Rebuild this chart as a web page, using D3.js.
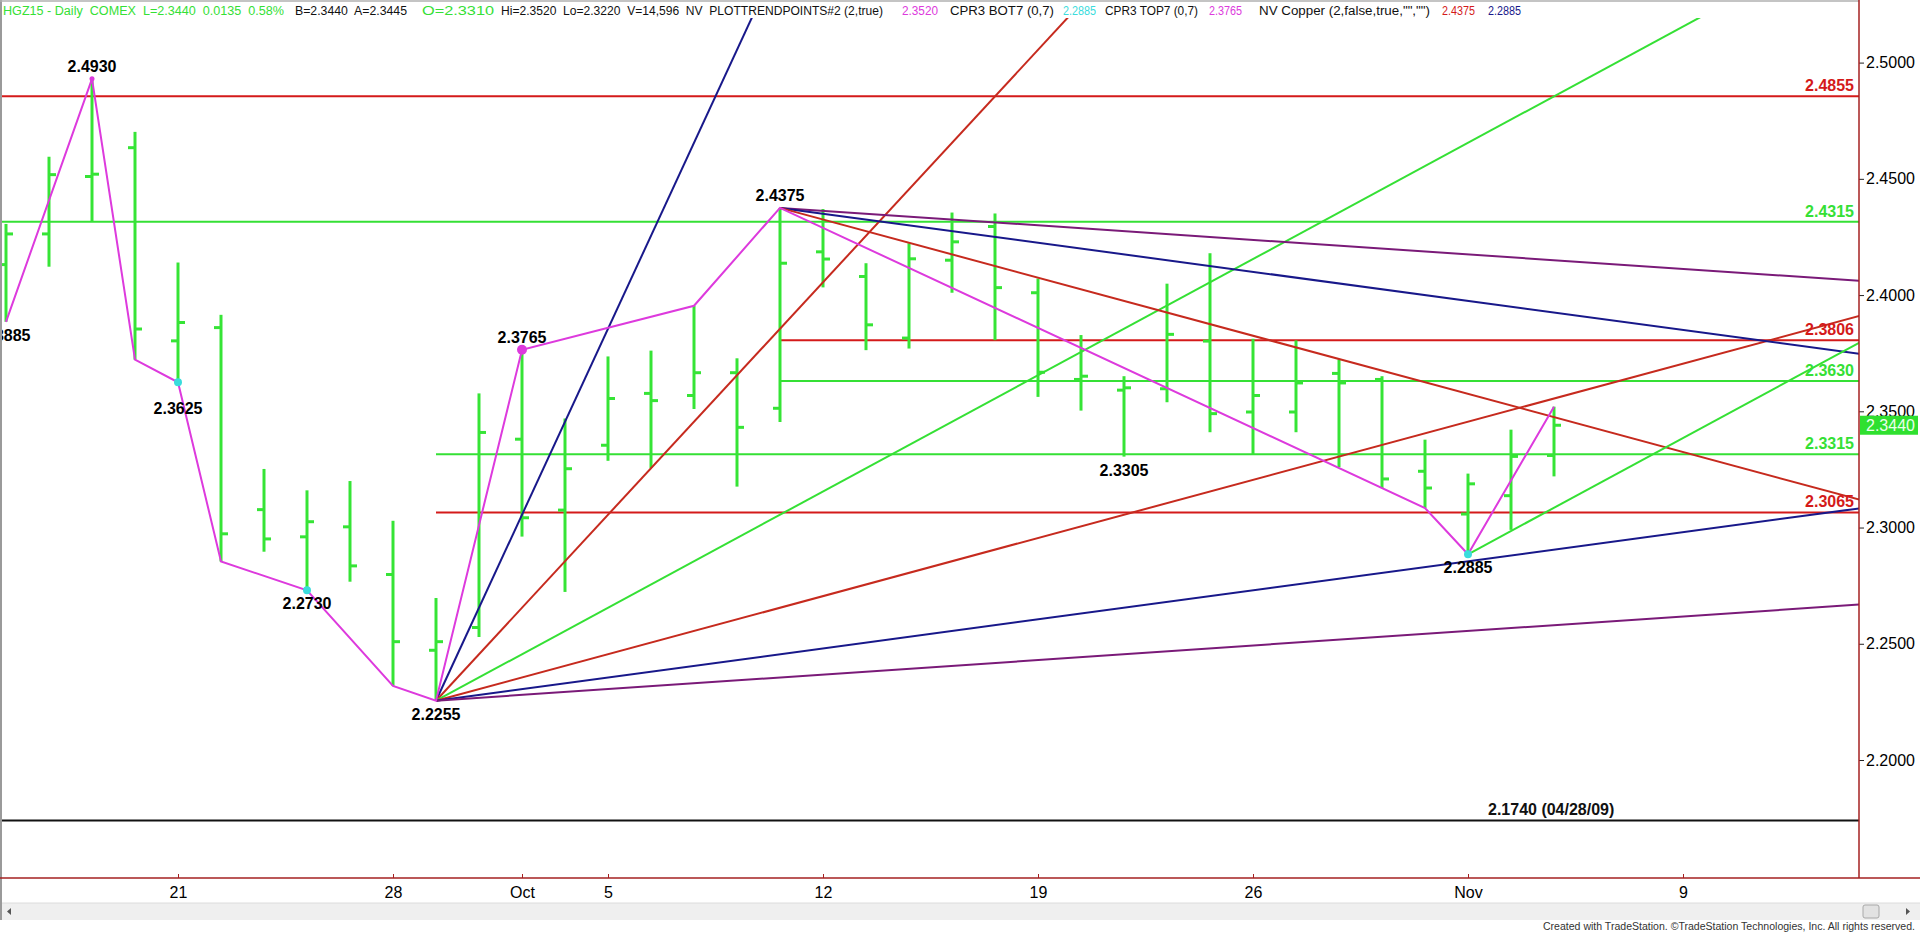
<!DOCTYPE html>
<html><head><meta charset="utf-8">
<script src="https://cdn.jsdelivr.net/npm/d3@7"></script>
<style>
html,body{margin:0;padding:0;background:#fff;overflow:hidden}
svg{display:block;font-family:"Liberation Sans",Arial,sans-serif}
</style></head><body>
<svg id="c" width="1920" height="934"></svg>
<script>
// ---------------- DATA ----------------
const dates = ["2015-09-15","2015-09-16","2015-09-17","2015-09-18","2015-09-21","2015-09-22","2015-09-23","2015-09-24","2015-09-25",
"2015-09-28","2015-09-29","2015-09-30","2015-10-01","2015-10-02","2015-10-05","2015-10-06","2015-10-07","2015-10-08","2015-10-09",
"2015-10-12","2015-10-13","2015-10-14","2015-10-15","2015-10-16","2015-10-19","2015-10-20","2015-10-21","2015-10-22","2015-10-23",
"2015-10-26","2015-10-27","2015-10-28","2015-10-29","2015-10-30","2015-11-02","2015-11-03","2015-11-04"];
const futureDates = ["2015-11-05","2015-11-06","2015-11-09","2015-11-10","2015-11-11","2015-11-12","2015-11-13"];
const opens  = [2.4131,2.4263,2.4510,2.4634,2.3803,2.3860,2.3077,2.2960,2.3003,2.2798,2.2472,2.2570,2.3380,2.3075,2.3354,2.3577,2.3568,2.3666,2.3513,2.4186,2.4080,2.3815,2.4150,2.4295,2.4010,2.3637,2.3591,2.3597,2.3802,2.3497,2.3497,2.3663,2.3637,2.3242,2.3058,2.3137,2.3310];
const highs  = [2.4306,2.4595,2.4930,2.4702,2.4140,2.3915,2.3252,2.3160,2.3200,2.3029,2.2697,2.3577,2.3765,2.3469,2.3736,2.3761,2.3954,2.3728,2.4375,2.4370,2.4137,2.4223,2.4355,2.4351,2.4071,2.3828,2.3651,2.4049,2.4180,2.3812,2.3805,2.3723,2.3651,2.3378,2.3232,2.3421,2.3520];
const lows   = [2.3885,2.4122,2.4315,2.3722,2.3625,2.2854,2.2896,2.2730,2.2767,2.2319,2.2255,2.2529,2.2961,2.2723,2.3287,2.3256,2.3510,2.3176,2.3454,2.4033,2.3763,2.3770,2.4010,2.3806,2.3562,2.3503,2.3305,2.3539,2.3410,2.3313,2.3410,2.3260,2.3170,2.3084,2.2885,2.2990,2.3220];
const closes = [2.4263,2.4518,2.4520,2.3854,2.3882,2.2973,2.2951,2.3025,2.2835,2.2509,2.2509,2.3409,2.3042,2.3253,2.3555,2.3546,2.3666,2.3431,2.4137,2.4155,2.3872,2.4156,2.4229,2.4032,2.3668,2.3651,2.3601,2.3831,2.3490,2.3568,2.3622,2.3622,2.3209,2.3170,2.3188,2.3306,2.3440];

const xTickDates  = ["2015-09-21","2015-09-28","2015-10-01","2015-10-05","2015-10-12","2015-10-19","2015-10-26","2015-11-02","2015-11-09"];
const xTickLabels = ["21","28","Oct","5","12","19","26","Nov","9"];
const yTickValues = [2.20,2.25,2.30,2.35,2.40,2.45,2.50];

// swing (trend point) line
const swingDates  = ["2015-09-15","2015-09-17","2015-09-18","2015-09-21","2015-09-22","2015-09-24","2015-09-28","2015-09-29","2015-10-01","2015-10-07","2015-10-09","2015-10-30","2015-11-02","2015-11-04"];
const swingPrices = [2.3885,2.4930,2.3722,2.3625,2.2854,2.2730,2.2319,2.2255,2.3765,2.3954,2.4375,2.3084,2.2885,2.3520];

// labelled pivots
const pivotDates  = ["2015-09-15","2015-09-17","2015-09-21","2015-09-24","2015-09-29","2015-10-01","2015-10-09","2015-10-21","2015-11-02"];
const pivotPrices = [2.3885,2.4930,2.3625,2.2730,2.2255,2.3765,2.4375,2.3305,2.2885];
const pivotSides  = ["below","above","below","below","below","above","above","below","below"];

// horizontal levels
const levelPrices = [2.4855,2.4315,2.3806,2.3630,2.3315,2.3065,2.1740];
const levelStarts = [null,null,"2015-10-09","2015-10-09","2015-09-29","2015-09-29",null];
const levelKinds  = ["red","green","red","green","green","red","black"];
const levelTexts  = ["2.4855","2.4315","2.3806","2.3630","2.3315","2.3065","2.1740 (04/28/09)"];

// angle (fan) lines: origin date, origin price, slope (price per bar)
const fanDates  = ["2015-09-29","2015-09-29","2015-09-29","2015-09-29","2015-09-29","2015-09-29","2015-10-09","2015-10-09","2015-10-09","2015-11-02"];
const fanPrices = [2.2255,2.2255,2.2255,2.2255,2.2255,2.2255,2.4375,2.4375,2.4375,2.2885];
const fanSlopes = [0.04,0.02,0.01,0.005,0.0025,0.00125,-0.00125,-0.0025,-0.005,0.01];
const fanKinds  = ["navy","red","green","red","navy","purple","purple","navy","red","green"];

const headerTexts  = ["HGZ15 - Daily  COMEX  L=2.3440  0.0135  0.58%","B=2.3440  A=2.3445","O=2.3310","Hi=2.3520  Lo=2.3220  V=14,596  NV  PLOTTRENDPOINTS#2 (2,true)","2.3520","CPR3 BOT7 (0,7)","2.2885","CPR3 TOP7 (0,7)","2.3765","NV Copper (2,false,true,\"\",\"\")","2.4375","2.2885"];
const headerKinds  = ["green","black","green","black","magenta","black","cyan","black","magenta","black","red","navy"];
const lastPrice = 2.3440;

// ---------------- STYLE / LAYOUT ----------------
const COL = {green:"#35e035", red:"#d41a1a", fanred:"#c62a1e", navy:"#18188a", purple:"#7a1a78", black:"#111", magenta:"#dd3add", cyan:"#3adcdc", axis:"#a52020", bar:"#36e436"};
const headerX = [3,295,422,501,902,950,1063,1105,1209,1259,1442,1488];
const headerW = [281,112,72,382,36,104,33,93,33,171,33,33];

const W = 1920, H = 934;
const plotL = 0, plotR = 1859, plotT = 18, plotB = 878;
const svg = d3.select("#c");

const allDates = dates.concat(futureDates);
const idx = d => allDates.indexOf(d);
const x = d3.scaleLinear().domain([0, 43]).range([6, 1855]);
const y = d3.scaleLinear().domain([2.2, 2.5]).range([760, 62.6]);

svg.append("rect").attr("width",W).attr("height",H).attr("fill","#fff");

svg.append("clipPath").attr("id","pc").append("rect")
  .attr("x",plotL).attr("y",plotT).attr("width",plotR-plotL).attr("height",plotB-plotT);
const plot = svg.append("g").attr("clip-path","url(#pc)");

// levels
const levels = levelPrices.map((p,i)=>({p, start:levelStarts[i], kind:levelKinds[i], text:levelTexts[i]}));
plot.selectAll("line.lvl").data(levels).join("line").attr("class","lvl")
  .attr("x1",d=>d.start? x(idx(d.start)) : plotL).attr("x2",plotR)
  .attr("y1",d=>y(d.p)).attr("y2",d=>y(d.p))
  .attr("stroke",d=>COL[d.kind]).attr("stroke-width",2);

// bars
const bars = dates.map((d,i)=>({j:i,o:opens[i],h:highs[i],l:lows[i],c:closes[i]}));
const bg = plot.append("g");
bg.selectAll("line.hl").data(bars).join("line")
  .attr("x1",d=>x(d.j)).attr("x2",d=>x(d.j)).attr("y1",d=>y(d.h)).attr("y2",d=>y(d.l))
  .attr("stroke",COL.bar).attr("stroke-width",3);
bg.selectAll("line.op").data(bars).join("line")
  .attr("x1",d=>x(d.j)-7).attr("x2",d=>x(d.j)).attr("y1",d=>y(d.o)).attr("y2",d=>y(d.o))
  .attr("stroke",COL.bar).attr("stroke-width",3);
bg.selectAll("line.cl").data(bars).join("line")
  .attr("x1",d=>x(d.j)).attr("x2",d=>x(d.j)+7).attr("y1",d=>y(d.c)).attr("y2",d=>y(d.c))
  .attr("stroke",COL.bar).attr("stroke-width",3);

// fans
const endJ = x.invert(plotR + 20);
const fans = fanDates.map((d,i)=>({j:idx(d), p:fanPrices[i], s:fanSlopes[i], kind:fanKinds[i]}));
plot.selectAll("line.fan").data(fans).join("line")
  .attr("x1",d=>x(d.j)).attr("y1",d=>y(d.p))
  .attr("x2",x(endJ)).attr("y2",d=>y(d.p + d.s*(endJ-d.j)))
  .attr("stroke",d=>d.kind==="red"?COL.fanred:COL[d.kind]).attr("stroke-width",2);

// swing line
const swing = swingDates.map((d,i)=>[idx(d), swingPrices[i]]);
plot.append("path").datum(swing)
  .attr("d", d3.line().x(d=>x(d[0])).y(d=>y(d[1])))
  .attr("fill","none").attr("stroke",COL.magenta).attr("stroke-width",2);

// dots
const dots = [
  {d:"2015-09-17",p:2.4930,c:COL.magenta,r:2.5},
  {d:"2015-09-21",p:2.3625,c:COL.cyan,r:4},
  {d:"2015-09-24",p:2.2730,c:COL.cyan,r:4},
  {d:"2015-10-01",p:2.3765,c:COL.magenta,r:5},
  {d:"2015-11-02",p:2.2885,c:COL.cyan,r:4}];
plot.selectAll("circle").data(dots).join("circle")
  .attr("cx",d=>x(idx(d.d))).attr("cy",d=>y(d.p)).attr("r",d=>d.r).attr("fill",d=>d.c);

// pivot labels
const fmt = d3.format(".4f");
const pivots = pivotDates.map((d,i)=>({j:idx(d),p:pivotPrices[i],side:pivotSides[i]}));
const belowOff = {"2015-09-21":32};
plot.selectAll("text.pv").data(pivots).join("text")
  .attr("x",d=>x(d.j))
  .attr("y",d=> d.side==="above" ? y(d.p)-7 : y(d.p) + (belowOff[allDates[d.j]]||19))
  .attr("text-anchor","middle").attr("font-size",16).attr("font-weight","bold").attr("fill","#000")
  .text(d=>fmt(d.p));

// level labels
plot.selectAll("text.ll").data(levels).join("text")
  .attr("x",d=>d.kind==="black"?1488:1854)
  .attr("y",d=>y(d.p)-5)
  .attr("text-anchor",d=>d.kind==="black"?"start":"end")
  .attr("font-size",16).attr("font-weight","bold")
  .attr("fill",d=>COL[d.kind]).text(d=>d.text);

// frame lines
svg.append("line").attr("x1",1).attr("x2",1).attr("y1",0).attr("y2",920).attr("stroke","#9a9a9a").attr("stroke-width",2);
svg.append("line").attr("x1",0).attr("x2",plotR).attr("y1",1).attr("y2",1).attr("stroke","#b0b0b0").attr("stroke-width",1.5);

// right axis
const yAxis = d3.axisRight(y).tickValues(yTickValues).tickFormat(d3.format(".4f")).tickSize(5).tickPadding(2);
const ya = svg.append("g").attr("transform",`translate(${plotR},0)`).call(yAxis);
ya.select(".domain").remove();
ya.selectAll(".tick line").attr("stroke","#222");
ya.selectAll(".tick text").attr("font-size",16).attr("fill","#000").attr("font-family","Liberation Sans, Arial, sans-serif");
svg.append("line").attr("x1",plotR).attr("x2",plotR).attr("y1",0).attr("y2",plotB).attr("stroke",COL.axis).attr("stroke-width",1.5);

// bottom axis
const xAxis = d3.axisBottom(x).tickValues(xTickDates.map(idx)).tickFormat((d,i)=>xTickLabels[i]).tickSizeInner(-4).tickSizeOuter(0).tickPadding(9);
const xa = svg.append("g").attr("transform",`translate(0,${plotB})`).call(xAxis);
xa.select(".domain").remove();
xa.selectAll(".tick line").attr("stroke",COL.axis);
xa.selectAll(".tick text").attr("font-size",16).attr("fill","#000").attr("font-family","Liberation Sans, Arial, sans-serif");
svg.append("line").attr("x1",0).attr("x2",W).attr("y1",plotB).attr("y2",plotB).attr("stroke",COL.axis).attr("stroke-width",1.5);

// last price marker
const ly = y(lastPrice);
svg.append("rect").attr("x",plotR+1).attr("y",ly-9.5).attr("width",58).attr("height",19).attr("fill","#2fe02f");
svg.append("text").attr("x",plotR+7).attr("y",ly+6).attr("font-size",16).attr("fill","#eaffea").text(fmt(lastPrice));

// header (natural width kept below target; textLength stretches to the target)
const hdr = headerTexts.map((t,i)=>({t, kind:headerKinds[i], x:headerX[i], w:headerW[i]}));
svg.selectAll("text.hd").data(hdr).join("text")
  .attr("x",d=>d.x).attr("y",15).attr("font-size",12)
  .attr("textLength",d=>d.w).attr("lengthAdjust","spacingAndGlyphs")
  .style("white-space","pre")
  .attr("fill",d=>COL[d.kind]).text(d=>d.t);

// scrollbar
svg.append("rect").attr("x",2).attr("y",903).attr("width",W-2).attr("height",17).attr("fill","#efefef");
svg.append("line").attr("x1",2).attr("x2",W).attr("y1",903).attr("y2",903).attr("stroke","#dcdcdc");
svg.append("rect").attr("x",1863).attr("y",905).attr("width",16).attr("height",13).attr("rx",2).attr("fill","#e2e2e2").attr("stroke","#a8a8a8");
svg.append("path").attr("d","M11,908 L7,911.5 L11,915 Z").attr("fill","#555");
svg.append("path").attr("d","M1906,908 L1910,911.5 L1906,915 Z").attr("fill","#555");

// copyright
svg.append("text").attr("x",1915).attr("y",930).attr("text-anchor","end").attr("font-size",10)
  .attr("textLength",372).attr("lengthAdjust","spacingAndGlyphs").attr("fill","#333")
  .text("Created with TradeStation. \u00A9TradeStation Technologies, Inc. All rights reserved.");
</script>
</body></html>
